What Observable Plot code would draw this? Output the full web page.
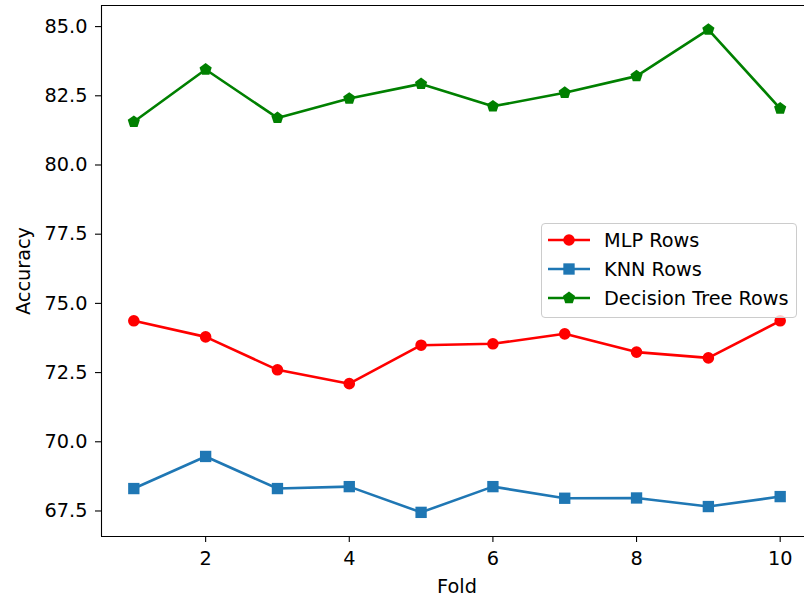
<!DOCTYPE html>
<html>
<head>
<meta charset="utf-8">
<script src="https://cdn.jsdelivr.net/npm/d3@7"></script>
<script src="https://cdn.jsdelivr.net/npm/@observablehq/plot@0.6"></script>
<style>
  html, body { margin: 0; padding: 0; background: white; overflow: hidden; }
  #wrap { position: relative; width: 804px; height: 601px; font-family: "DejaVu Sans", sans-serif; }
  #legend { position: absolute; left: 541px; top: 223px; width: 256px; height: 95px;
    border: 1px solid #cccccc; border-radius: 4px; background: rgba(255,255,255,0.8); box-sizing: border-box; }
  .entry { position: absolute; left: 5px; height: 24px; display: flex; align-items: center; font-size: 19.3px; color: #000; white-space: nowrap; }
  .entry svg { margin-right: 13px; }
</style>
</head>
<body>
<div id="wrap"></div>
<script>
// ---- data ----
const folds = [1, 2, 3, 4, 5, 6, 7, 8, 9, 10];
const mlpRows = [74.37, 73.79, 72.60, 72.10, 73.49, 73.54, 73.90, 73.24, 73.03, 74.37];
const knnRows = [68.31, 69.47, 68.31, 68.38, 67.45, 68.38, 67.96, 67.97, 67.66, 68.02];
const dtRows  = [81.56, 83.45, 81.70, 82.40, 82.93, 82.12, 82.61, 83.21, 84.89, 82.04];
const seriesNames = ["MLP Rows", "KNN Rows", "Decision Tree Rows"];
const xTicks = [2, 4, 6, 8, 10];
const yTicks = [67.5, 70.0, 72.5, 75.0, 77.5, 80.0, 82.5, 85.0];

// ---- styling ----
const colors = ["#ff0000", "#1f77b4", "#008000"];
const pentagon = {
  draw(context, size) {
    const R = Math.sqrt(size / Math.PI);
    for (let i = 0; i < 5; i++) {
      const a = -Math.PI / 2 + i * 2 * Math.PI / 5;
      const px = R * Math.cos(a), py = R * Math.sin(a);
      if (i === 0) context.moveTo(px, py); else context.lineTo(px, py);
    }
    context.closePath();
  }
};
const symbols = ["circle", "square", pentagon];
const radii = [5.8, 6.4, 6.4];
const FS = 19.3;

const allVals = mlpRows.concat(knnRows, dtRows);
const yMin = d3.min(allVals), yMax = d3.max(allVals);
const yPad = (yMax - yMin) * 0.05;
const yDomain = [yMin - yPad, yMax + yPad];
const xPad = (d3.max(folds) - d3.min(folds)) * 0.05;
const xLo = d3.min(folds) - xPad, xHi = d3.max(folds) + xPad;
// the image is cropped on the right: visible part of the axis
const marginLeft = 101, width = 804;
const fullPx = 711; // pixel span of full x domain
const xVisHi = xLo + (xHi - xLo) * (width - marginLeft) / fullPx;

const tables = [mlpRows, knnRows, dtRows].map((vals, i) =>
  folds.map((f, j) => ({fold: f, acc: vals[j], series: seriesNames[i]})));

const marks = [];
tables.forEach((t, i) => {
  marks.push(Plot.line(t, {x: "fold", y: "acc", stroke: colors[i], strokeWidth: 2.6}));
  marks.push(Plot.dot(t, {x: "fold", y: "acc", fill: colors[i], symbol: () => symbols[i], r: radii[i], stroke: "none"}));
});

const chart = Plot.plot({
  width, height: 601,
  marginLeft, marginRight: 0, marginTop: 5, marginBottom: 65,
  style: {fontFamily: "DejaVu Sans, sans-serif", fontSize: FS + "px", color: "black", background: "white"},
  x: {domain: [xLo, xVisHi]},
  y: {domain: yDomain},
  marks: [
    Plot.axisX({ticks: xTicks, tickSize: 6, tickPadding: 9, tickFormat: d => String(d), label: null, strokeWidth: 1.1}),
    Plot.axisY({ticks: yTicks, tickSize: 6, tickPadding: 8, tickFormat: d3.format(".1f"), label: null, strokeWidth: 1.1}),
    ...marks,
    Plot.ruleX([xLo], {stroke: "black", strokeWidth: 1.1}),
    Plot.ruleY([yDomain[0]], {stroke: "black", strokeWidth: 1.1}),
    Plot.ruleY([yDomain[1]], {stroke: "black", strokeWidth: 1.1}),
    Plot.text(["Fold"], {frameAnchor: "bottom", dy: 50, dx: 4, textAnchor: "middle", lineAnchor: "middle", text: d => d, fontSize: FS, fill: "black"}),
    Plot.text(["Accuracy"], {frameAnchor: "left", dx: -78, rotate: -90, textAnchor: "middle", lineAnchor: "middle", text: d => d, fontSize: FS, fill: "black"})
  ]
});

const wrap = document.getElementById("wrap");
wrap.appendChild(chart);

// ---- legend ----
const legend = document.createElement("div");
legend.id = "legend";
const rowTops = [4, 33, 62];
seriesNames.forEach((name, i) => {
  const e = document.createElement("div");
  e.className = "entry";
  e.style.top = rowTops[i] + "px";
  const s = d3.create("svg").attr("width", 44).attr("height", 20);
  s.append("line").attr("x1", 1).attr("x2", 43).attr("y1", 10).attr("y2", 10)
    .attr("stroke", colors[i]).attr("stroke-width", 2.6);
  const sym = typeof symbols[i] === "string"
    ? (symbols[i] === "circle" ? d3.symbolCircle : d3.symbolSquare) : symbols[i];
  s.append("path").attr("transform", "translate(22,10)")
    .attr("d", d3.symbol(sym, Math.PI * radii[i] * radii[i])())
    .attr("fill", colors[i]);
  e.appendChild(s.node());
  const t = document.createElement("span");
  t.textContent = name;
  e.appendChild(t);
  legend.appendChild(e);
});
wrap.appendChild(legend);
</script>
</body>
</html>
